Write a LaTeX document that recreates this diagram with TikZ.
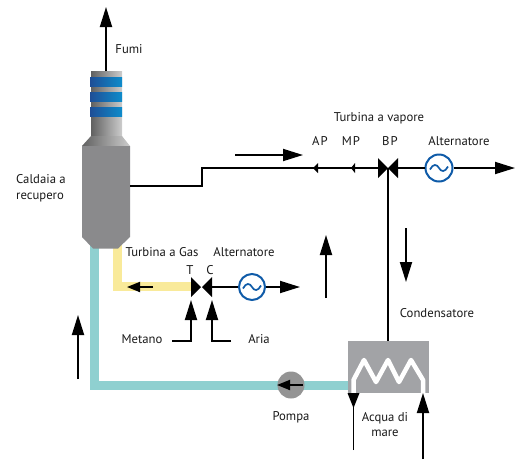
\documentclass[tikz,border=0pt]{standalone}
\usepackage{fontspec}
\setmainfont{PT Sans}
\usetikzlibrary{arrows.meta}
\definecolor{tealp}{HTML}{8FD0D0}
\definecolor{yellowp}{HTML}{F9EA9A}
\definecolor{blueg}{HTML}{0F5BA8}
\definecolor{condg}{HTML}{A2A3A6}
\definecolor{bandL}{HTML}{1F4E96}
\definecolor{bandR}{HTML}{0E8CCB}
\definecolor{bodyg}{HTML}{8A8A8C}
\tikzset{
 x=1pt,y=-1pt,
 lbl/.style={font=\fontsize{12.7}{15}\selectfont,text=black!90,inner sep=0pt,align=center},
 ln/.style={draw=black,line width=1.8pt},
 arr/.style={ln,-{Triangle[length=20pt,width=12pt]}},
 arrs/.style={ln,-{Triangle[length=13pt,width=10pt]}},
 tip/.style={fill=black,draw=none},
 pipeT/.style={draw=tealp,line width=9pt},
 pipeY/.style={draw=yellowp,line width=9pt},
 gen/.style={circle,draw=blueg,line width=2pt,fill=white,minimum size=26pt,inner sep=0pt},
 wave/.style={blueg,line width=1.7pt},
 band/.style={left color=bandL,right color=bandR},
 steel/.style={left color=black!62,right color=black!20},
}
\begin{document}
\begin{tikzpicture}
\useasboundingbox (0,0) rectangle (515,459);
% free ends
\coordinate (fumiA) at (106,71); \coordinate (fumiB) at (106,7);
\coordinate (yB) at (191,286.5);
% pipes
\draw[pipeT] (94.5,245) -- (94.5,385.5) -- (350,385.5);
\draw[pipeY] (117,245) -- (117,286.5) -- (yB);
% stack and boiler
\shade[steel] (91,71) rectangle (122,137);
\shade[steel] (91,136) -- (122,136) -- (130,146) -- (82,146) -- cycle;
\fill[bodyg] (82,146) -- (130,146) -- (130,237) -- (118,248.5) -- (93,248.5) -- (82,237) -- cycle;
\shade[band] (90,77) rectangle (122,86);
\shade[band] (90,92) rectangle (122,101);
\shade[band] (90,107) rectangle (122,116);
\draw[arr] (fumiA) -- (fumiB);
% condenser
\node[draw=none,fill=condg,minimum width=81pt,minimum height=52pt,inner sep=0pt] (cond) at (388.5,367) {};
\draw[white,line width=4.5pt,line join=round] (353.5,393) -- (353.5,380) -- (364,360) -- (376,382) -- (388,360) -- (399,382) -- (411,360) -- (423,380) -- (423,393);
% gas turbine
\fill[tip] (191,277) -- (201,287) -- (191,297) -- cycle;
\fill[tip] (212,277) -- (202,287) -- (212,297) -- cycle;
\coordinate (ct) at (212,287);
\node[gen] (g1) at (252,287) {};
\draw[ln] (ct) -- (g1);
\coordinate (g1e) at (300,287);
\draw[arr] (g1) -- (g1e);
\draw[wave] (243,288.5) .. controls (246,282.5) and (250,283) .. (252,287) .. controls (254,291) and (258,291.5) .. (261,285.5);
\coordinate (y1) at (153,287); \coordinate (y2) at (127,287);
\draw[arrs] (y1) -- (y2);
\coordinate (m1) at (172,341); \coordinate (m2) at (191,300);
\draw[arr] (m1) -| (m2);
\coordinate (a1) at (231,341); \coordinate (a2) at (212,300);
\draw[arr] (a1) -| (a2);
% free arrows
\coordinate (f1) at (78,379); \coordinate (f2) at (78,315);
\draw[arr] (f1) -- (f2);
\coordinate (f3) at (326,298); \coordinate (f4) at (326,235);
\draw[arr] (f3) -- (f4);
\coordinate (f5) at (406,228); \coordinate (f6) at (406,282);
\draw[arr] (f5) -- (f6);
\coordinate (f7) at (235,155); \coordinate (f8) at (303,155);
\draw[arr] (f7) -- (f8);
% steam line
\coordinate (s0) at (130,186); \coordinate (s1) at (202,186); \coordinate (s2) at (202,168); \coordinate (s3) at (380,168);
\draw[ln] (s0) -- (s1) -- (s2) -- (s3);
\fill[tip] (313,168) -- (318,163) -- (318,173) -- cycle;
\fill[tip] (351,168) -- (355,163) -- (355,173) -- cycle;
\fill[tip] (378,158) -- (388,168) -- (378,178) -- cycle;
\fill[tip] (398,158) -- (388,168) -- (398,178) -- cycle;
\coordinate (bp) at (388,168); \coordinate (cn) at (388,341);
\draw[ln] (bp) -- (cn);
\node[gen,minimum size=27pt] (g2) at (439,168) {};
\coordinate (bpe) at (398,168); \coordinate (g2e) at (515,168);
\draw[ln] (bpe) -- (g2);
\draw[arr] (g2) -- (g2e);
\draw[wave] (430,169.5) .. controls (433,163.5) and (437,164) .. (439,168) .. controls (441,172) and (445,172.5) .. (448,166.5);
% pump
\node[circle,fill=black!42,minimum size=27pt,inner sep=0pt] (pump) at (291,385) {};
\coordinate (p1) at (303,385); \coordinate (p2) at (277,385);
\draw[arrs] (p1) -- (p2);
% sea water
\coordinate (w1) at (353.5,450); \coordinate (w2) at (353.5,393); \coordinate (w3) at (423,459); \coordinate (w4) at (423,393);
\draw[ln] (w1) -- (w2);
\fill[tip] (347.5,393) -- (359.5,393) -- (353.5,408) -- cycle;
\draw[arr] (w3) -- (w4);
% labels
\node[lbl] (t1) at (129,49) {Fumi};
\node[lbl,anchor=west,align=left] (t2) at (16,188.5) {Caldaia a\\[1pt]recupero};
\node[lbl] (t3) at (162,252) {Turbina a Gas};
\node[lbl] (t4) at (244,252) {Alternatore};
\node[lbl] (t5) at (190,270) {T};
\node[lbl] (t6) at (210,270) {C};
\node[lbl] (t7) at (142,339) {Metano};
\node[lbl] (t8) at (259,339) {Aria};
\node[lbl] (t9) at (379,118) {Turbina a vapore};
\node[lbl] (t10) at (320,141) {A\kern1pt P};
\node[lbl] (t11) at (351,141) {M\kern1pt P};
\node[lbl] (t12) at (390,141) {B\kern1pt P};
\node[lbl] (t13) at (459,141) {Alternatore};
\node[lbl] (t14) at (437,313) {Condensatore};
\node[lbl] (t15) at (291,417) {Pompa};
\node[lbl] (t16) at (385,425) {Acqua di\\[0pt]mare};
\end{tikzpicture}
\end{document}
